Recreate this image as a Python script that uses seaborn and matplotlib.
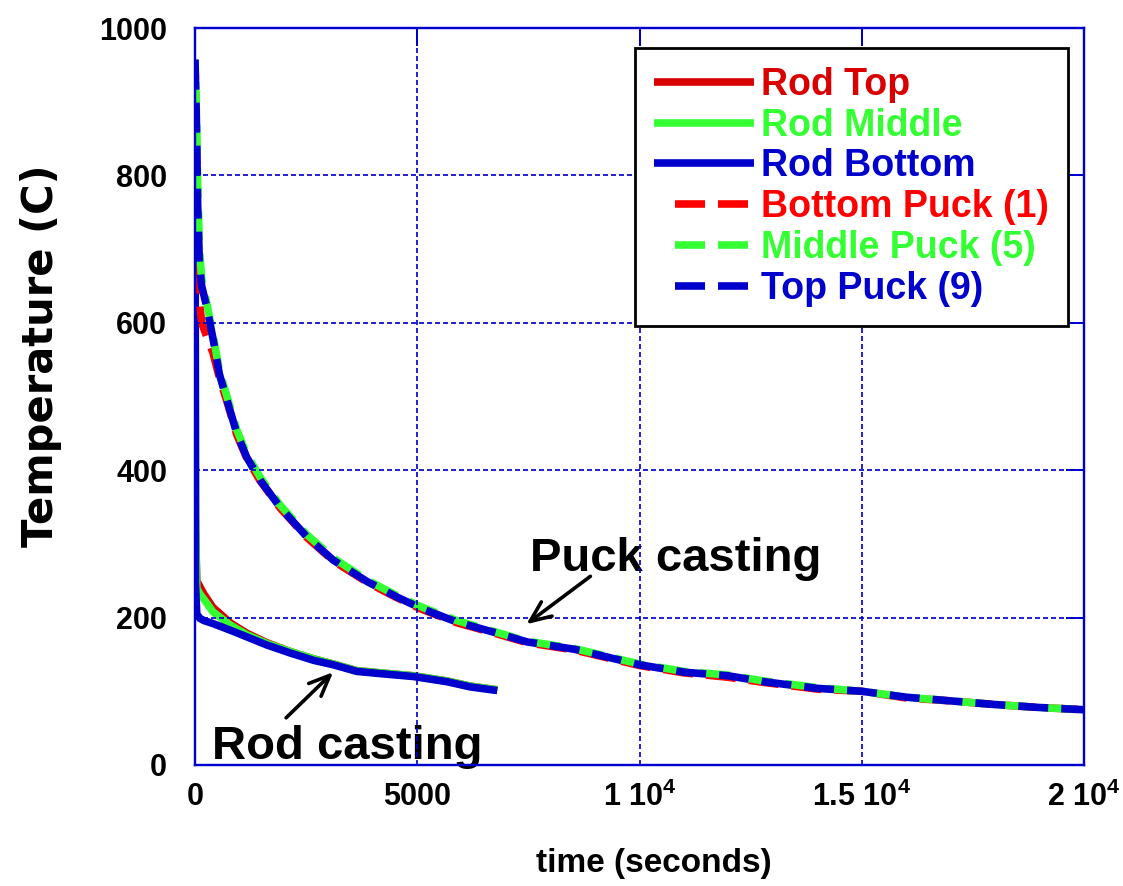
import matplotlib
matplotlib.use("Agg")
import matplotlib.pyplot as plt
from matplotlib.lines import Line2D
import seaborn as sns

# ---- Rod casting thermocouples (time in s, temperature in C) ----
rod_t = [0, 10, 40, 110, 200, 400, 790, 1160, 1610, 2140, 2670, 3110,
         3640, 4170, 4920, 5670, 6190, 6800]
rod_top = [950, 318, 250, 242, 232, 214, 193, 179, 166, 154, 144, 137,
           128, 125, 121, 114, 107, 102]
rod_middle = [950, 342, 240, 232, 225, 208, 190, 177, 165, 154, 144, 137,
              128, 125, 121, 114, 107, 102]
rod_bottom = [955, 247, 205, 199, 196, 192, 183, 174, 163, 152, 142, 136,
              127, 124, 120, 113, 106, 101]

# ---- Puck casting thermocouples ----
puck_t = [0, 30, 60, 100, 150, 270, 400, 550, 720, 940, 1160, 1460, 1910,
          2510, 3110, 3870, 4540, 5070, 5890, 6790, 7470, 8540, 10000,
          11000, 12000, 12800, 14000, 15000, 16000, 17000, 18000, 19000,
          20000]
bottom_puck = [957, 860, 700, 630, 600, 580, 560, 525, 493, 448, 417, 386,
               349, 309, 277, 248, 227, 212, 193, 178, 166, 156, 135, 125,
               119, 112, 103, 100, 91, 87, 82, 78, 75]
middle_puck = [957, 890, 790, 700, 660, 625, 585, 535, 500, 455, 422, 391,
               353, 313, 281, 251, 230, 215, 196, 180, 168, 158, 137, 127,
               122, 114, 105, 100, 92, 87, 82, 78, 75]
top_puck = [957, 880, 760, 680, 650, 620, 580, 530, 495, 450, 418, 387,
            350, 310, 278, 249, 228, 213, 194, 179, 167, 157, 136, 126,
            121, 113, 104, 100, 92, 87, 82, 78, 75]

x_ticks = [0, 5000, 10000, 15000, 20000]
x_tick_labels = ["0", "5000", "1 10$^4$", "1.5 10$^4$", "2 10$^4$"]
y_ticks = [0, 200, 400, 600, 800, 1000]

sns.set_style("white")
plt.rcParams["font.family"] = ["Liberation Sans", "DejaVu Sans"]
plt.rcParams["font.weight"] = "bold"
plt.rcParams["text.color"] = "black"
plt.rcParams["axes.labelcolor"] = "black"
plt.rcParams["mathtext.default"] = "regular"
plt.rcParams["lines.scale_dashes"] = False

BLUE = "#0000CC"
DARK_RED = "#D80000"
RED = "#FF0000"
GREEN = "#33FF33"

PT = 0.72  # points per pixel at 100 dpi
LW = 7.6 * PT
ON, OFF = 30 * PT, 13 * PT

fig = plt.figure(figsize=(11.23, 8.86), dpi=100)
ax = fig.add_axes([195 / 1123, 1 - 765 / 886, (1084 - 195) / 1123,
                   (765 - 28) / 886])

# solid rod curves
for temps, col in [(rod_top, DARK_RED), (rod_middle, GREEN),
                   (rod_bottom, BLUE)]:
    sns.lineplot(x=rod_t, y=temps, ax=ax, color=col, lw=LW,
                 estimator=None, sort=False, solid_capstyle="butt",
                 solid_joinstyle="miter")

# dashed puck curves, phases staggered so the colours interleave
for temps, col, phase in [(bottom_puck, RED, 11 * PT),
                          (middle_puck, GREEN, 21 * PT),
                          (top_puck, BLUE, 0)]:
    sns.lineplot(x=puck_t, y=temps, ax=ax, color=col, lw=LW,
                 estimator=None, sort=False,
                 linestyle=(phase, (ON, OFF)), dash_capstyle="butt")

ax.set_xlim(0, 20000)
ax.set_ylim(0, 1000)
ax.set_xticks(x_ticks)
ax.set_xticklabels(x_tick_labels)
ax.set_yticks(y_ticks)

ax.set_axisbelow(False)
ax.grid(True, color=BLUE, lw=1.7 * PT, linestyle=(0, (5 * PT, 3 * PT)))
for sp in ax.spines.values():
    sp.set_color(BLUE)
    sp.set_linewidth(2.4 * PT)
    sp.set_zorder(3)

ax.tick_params(axis="both", which="major", direction="in", length=18 * PT,
               width=2 * PT, color=BLUE, top=True, right=True,
               labelsize=22, labelcolor="black")
ax.tick_params(axis="x", pad=12)
ax.tick_params(axis="y", pad=20)
for lab in ax.get_xticklabels() + ax.get_yticklabels():
    lab.set_fontweight("bold")

ax.set_xlabel("time (seconds)", fontsize=24, fontweight="bold",
              color="black")
ax.xaxis.set_label_coords(0.516, -0.112)
ax.set_ylabel("Temperature (C)", fontsize=30, fontweight="bold",
              fontfamily="DejaVu Sans", color="black")
ax.yaxis.set_label_coords(-0.15, 0.556)

# annotations
arrow = dict(arrowstyle="->,head_length=0.75,head_width=0.32",
             color="black", lw=2.6, shrinkA=0, shrinkB=0,
             mutation_scale=20)
ax.annotate("", xy=(7454, 191), xytext=(8895, 256), arrowprops=arrow)
ax.annotate("", xy=(3108, 126), xytext=(2049, 64), arrowprops=arrow)
ax.text(7544, 263, "Puck casting", fontsize=34, fontweight="bold",
        color="black", ha="left", va="baseline", zorder=1.5)
ax.text(383, 8, "Rod casting", fontsize=34, fontweight="bold",
        color="black", ha="left", va="baseline", zorder=1.5)

# legend
legend_dash = (78 * PT, (ON, OFF, ON, 26 * PT))
handles = [
    Line2D([], [], color=DARK_RED, lw=LW, solid_capstyle="butt"),
    Line2D([], [], color=GREEN, lw=LW, solid_capstyle="butt"),
    Line2D([], [], color=BLUE, lw=LW, solid_capstyle="butt"),
    Line2D([], [], color=RED, lw=LW, linestyle=legend_dash,
           dash_capstyle="butt"),
    Line2D([], [], color=GREEN, lw=LW, linestyle=legend_dash,
           dash_capstyle="butt"),
    Line2D([], [], color=BLUE, lw=LW, linestyle=legend_dash,
           dash_capstyle="butt"),
]
labels = ["Rod Top", "Rod Middle", "Rod Bottom", "Bottom Puck (1)",
          "Middle Puck (5)", "Top Puck (9)"]
leg = ax.legend(handles, labels, loc="upper right",
                bbox_to_anchor=(1068 / 1123, 1 - 48 / 886),
                bbox_transform=fig.transFigure, borderaxespad=0,
                handlelength=2.67, handletextpad=0.19,
                labelspacing=0.13, borderpad=0.5, fancybox=False,
                framealpha=1, labelcolor="linecolor",
                prop={"weight": "bold", "size": 27})
leg.get_frame().set_edgecolor("black")
leg.get_frame().set_linewidth(2.0)
leg.set_zorder(5)

fig.savefig("out.png", dpi=100)
